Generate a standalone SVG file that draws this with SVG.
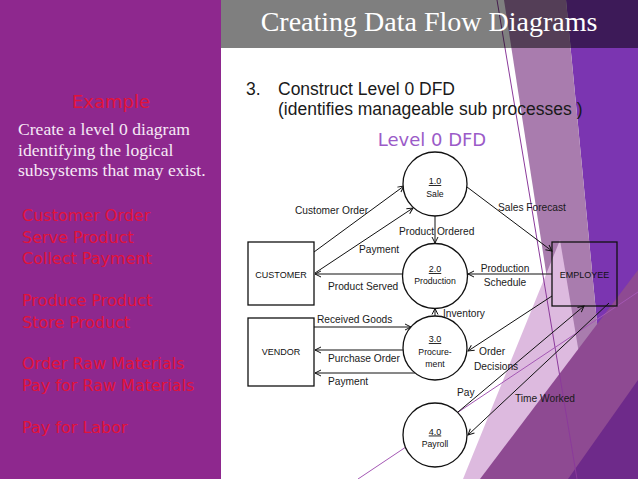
<svg xmlns="http://www.w3.org/2000/svg" width="638" height="479" viewBox="0 0 638 479">
  <style>
    .lbl { font-family: "Liberation Sans", Arial, sans-serif; font-size: 10.2px; fill: #1a1a1a; }
    .nm { font-family: "Liberation Sans", Arial, sans-serif; font-size: 9px; fill: #111; text-anchor: middle; }
    .pn { font-family: "Liberation Sans", Arial, sans-serif; font-size: 8.7px; fill: #111; text-anchor: middle; }
    .pid { font-family: "Liberation Sans", Arial, sans-serif; font-size: 9px; fill: #111; text-anchor: middle; text-decoration: underline; }
    .shape { fill: #fff; stroke: #111; stroke-width: 1.3; }
    .conn line { stroke: #111; stroke-width: 1; }
    .red { font-family: "DejaVu Sans", sans-serif; font-size: 16px; fill: #E2133A; }
    .intro { font-family: "Liberation Serif", "Times New Roman", serif; font-size: 17.6px; fill: #F6EAF6; }
    .body { font-family: "Liberation Sans", Arial, sans-serif; font-size: 17.5px; fill: #1a1a1a; }
  </style>
  <defs>
    <marker id="arr" markerWidth="8" markerHeight="8" refX="7" refY="4" orient="auto" markerUnits="userSpaceOnUse">
      <path d="M1,1 L7,4 L1,7" fill="none" stroke="#111" stroke-width="1"/>
    </marker>
  </defs>

  <!-- page background -->
  <rect x="0" y="0" width="638" height="479" fill="#ffffff"/>

  <!-- facet decoration on the right edge -->
  <g id="facets">
    <polygon points="566,0 638,0 638,479 612,479" fill="#7B35B1"/>
    <polygon points="504,0 566,0 612,479 578,479" fill="#A97CAE"/>
    <polygon points="560,240 600,479 463,479" fill="#DDBADF"/>
    <polygon points="638,270 638,479 480,479" fill="#8E4A92"/>
    <polygon points="638,380 638,479 568,479" fill="#6E2A8A"/>
    <line x1="497" y1="0" x2="577" y2="479" stroke="#8B3A9B" stroke-width="1"/>
    <line x1="358" y1="479" x2="638" y2="292" stroke="#A458B4" stroke-width="1"/>
  </g>

  <!-- title bar -->
  <rect x="220" y="0" width="418" height="48" fill="#000" fill-opacity="0.5"/>
  <text x="429" y="31" text-anchor="middle" font-family="Liberation Serif, Times New Roman, serif" font-size="28" fill="#fff">Creating Data Flow Diagrams</text>

  <!-- left panel -->
  <rect x="0" y="0" width="221" height="479" fill="#8E288E"/>
  <text x="111" y="108" text-anchor="middle" font-family="DejaVu Sans, sans-serif" font-size="18" fill="#E2133A">Example</text>
  <text class="intro" x="18" y="134.5">Create a level 0 diagram</text>
  <text class="intro" x="18" y="155.5">identifying the logical</text>
  <text class="intro" x="18" y="176">subsystems that may exist.</text>
  <text class="red" x="22" y="221">Customer Order</text>
  <text class="red" x="22" y="242.5">Serve Product</text>
  <text class="red" x="22" y="264">Collect Payment</text>
  <text class="red" x="22" y="306">Produce Product</text>
  <text class="red" x="22" y="327.5">Store Product</text>
  <text class="red" x="22" y="369">Order Raw Materials</text>
  <text class="red" x="22" y="390.5">Pay for Raw Materials</text>
  <text class="red" x="22" y="433">Pay for Labor</text>

  <!-- step text -->
  <text class="body" x="246" y="95">3.</text>
  <text class="body" x="278" y="95">Construct Level 0 DFD</text>
  <text class="body" x="278" y="114.5">(identifies manageable sub processes )</text>
  <text x="432" y="146" text-anchor="middle" font-family="DejaVu Sans, sans-serif" font-size="18" fill="#9B5BC8">Level 0 DFD</text>

  <!-- data flows -->
  <g id="connectors" class="conn" marker-end="url(#arr)">
    <line x1="314" y1="252" x2="404" y2="186"/>
    <line x1="315" y1="273" x2="413" y2="208"/>
    <line x1="403" y1="274" x2="315" y2="274"/>
    <line x1="435" y1="216" x2="435" y2="243"/>
    <line x1="467" y1="187" x2="552" y2="251"/>
    <line x1="552" y1="274" x2="468" y2="274"/>
    <line x1="435" y1="316" x2="435" y2="308.5"/>
    <line x1="314" y1="327" x2="411" y2="327"/>
    <line x1="403" y1="350" x2="315" y2="350"/>
    <line x1="415" y1="373" x2="315" y2="373"/>
    <line x1="552" y1="296" x2="468" y2="351"/>
    <line x1="458" y1="412" x2="584" y2="306"/>
    <line x1="609" y1="303" x2="468" y2="435"/>
  </g>

  <g id="flow-labels">
    <text class="lbl" x="295" y="214">Customer Order</text>
    <text class="lbl" x="359" y="253">Payment</text>
    <text class="lbl" x="399" y="235">Product Ordered</text>
    <text class="lbl" x="328" y="290">Product Served</text>
    <text class="lbl" x="498" y="211">Sales Forecast</text>
    <text class="lbl" x="505" y="272" text-anchor="middle">Production</text>
    <text class="lbl" x="505" y="286" text-anchor="middle">Schedule</text>
    <text class="lbl" x="443" y="317">Inventory</text>
    <text class="lbl" x="317" y="323">Received Goods</text>
    <text class="lbl" x="328" y="362">Purchase Order</text>
    <text class="lbl" x="328" y="385">Payment</text>
    <text class="lbl" x="479" y="355">Order</text>
    <text class="lbl" x="474" y="370">Decisions</text>
    <text class="lbl" x="457" y="396">Pay</text>
    <text class="lbl" x="515" y="402">Time Worked</text>
  </g>

  <!-- external entities -->
  <g id="customer">
    <rect class="shape" x="248" y="242" width="66" height="63"/>
    <text class="nm" x="281" y="277.5">CUSTOMER</text>
  </g>
  <g id="vendor">
    <rect class="shape" x="248" y="318" width="66" height="68"/>
    <text class="nm" x="281" y="355">VENDOR</text>
  </g>
  <g id="employee">
    <rect x="552" y="242" width="65" height="64" fill="none" stroke="#111" stroke-width="1.3"/>
    <text class="nm" x="584.5" y="278">EMPLOYEE</text>
  </g>

  <!-- processes -->
  <g id="p1">
    <circle class="shape" cx="435" cy="184" r="32"/>
    <text class="pid" x="435" y="184">1.0</text>
    <text class="pn" x="435" y="197">Sale</text>
  </g>
  <g id="p2">
    <circle class="shape" cx="435" cy="276" r="32.5"/>
    <text class="pid" x="435" y="272">2.0</text>
    <text class="pn" x="435" y="284">Production</text>
  </g>
  <g id="p3">
    <circle class="shape" cx="435" cy="348" r="32"/>
    <text class="pid" x="435" y="342">3.0</text>
    <text class="pn" x="435" y="355">Procure-</text>
    <text class="pn" x="435" y="367">ment</text>
  </g>
  <g id="p4">
    <circle class="shape" cx="435" cy="435" r="32"/>
    <text class="pid" x="435" y="434.5">4.0</text>
    <text class="pn" x="435" y="446.5">Payroll</text>
  </g>
</svg>
